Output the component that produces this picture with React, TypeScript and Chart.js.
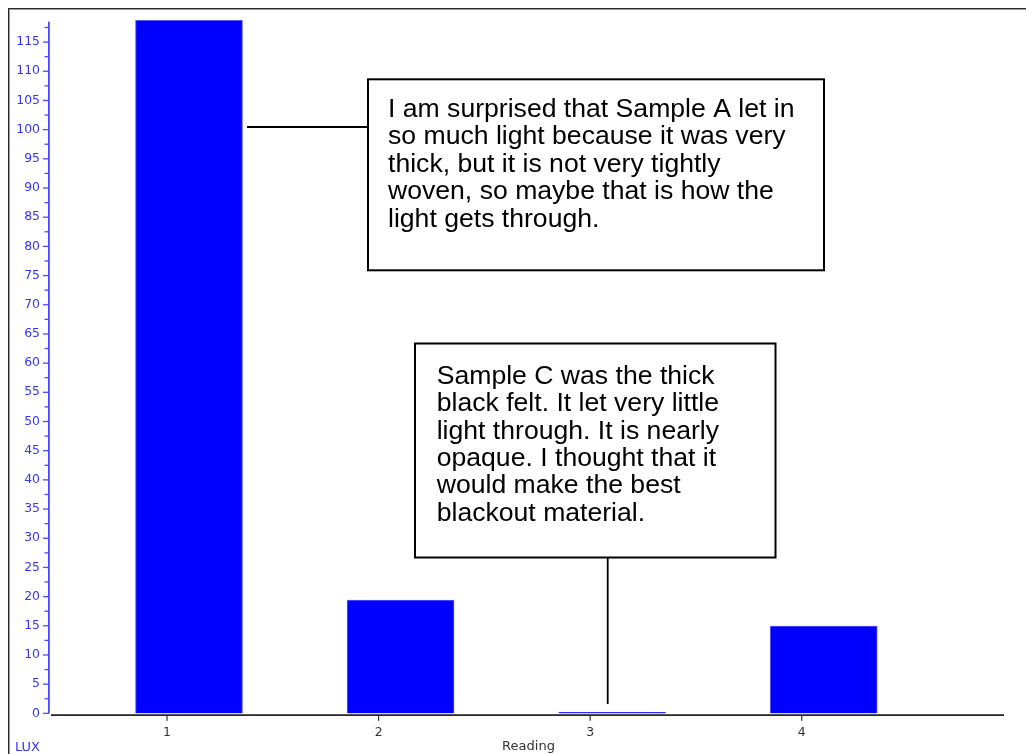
import React, { useEffect, useRef } from 'react';
import { Chart, registerables } from 'chart.js';

Chart.register(...registerables);

// ---- data ----
const readings = [1, 2, 3, 4];
const luxValues = [118.7, 19.4, 0.15, 14.95];
const xTickLabels = ['1', '2', '3', '4'];
const yMin = 0;
const yMax = 118.5;
const yStep = 2.5;
const yLabelStep = 5;
const yTitle = 'LUX';
const xTitle = 'Reading';
const noteA = [
  'I am surprised that Sample A let in',
  'so much light because it was very',
  'thick, but it is not very tightly',
  'woven, so maybe that is how the',
  'light gets through.',
];
const noteC = [
  'Sample C was the thick',
  'black felt. It let very little',
  'light through. It is nearly',
  'opaque. I thought that it',
  'would make the best',
  'blackout material.',
];

// ---- layout ----
const W = 1026;
const H = 754;
const X_MIN = 0.4423;
const X_MAX = 4.956;
const BAR_SHIFT = 0.104;
const BLUE_TEXT = '#3535ff';
const TICK_FONT = { family: '"DejaVu Sans", sans-serif', size: 12.4 };

const overlay = {
  id: 'overlay',
  afterDraw(chart: any) {
    const { ctx, chartArea, scales } = chart;
    const y = scales.y;
    const x = scales.x;
    ctx.save();
    // outer frame (top & left visible)
    ctx.fillStyle = '#2a2a2a';
    ctx.fillRect(8, 8, W - 8, 1);
    ctx.fillRect(8, 8, 1, H - 8);
    ctx.fillStyle = '#9a9a9a';
    ctx.fillRect(9, 9, W - 9, 1);
    ctx.fillRect(9, 9, 1, H - 9);

    // y axis line
    ctx.fillStyle = '#4a4aff';
    ctx.fillRect(48, chartArea.top, 1.8, chartArea.bottom - chartArea.top);
    // y ticks
    y.ticks.forEach((t: any) => {
      const py = y.getPixelForValue(t.value);
      const major = Math.abs(t.value / yLabelStep - Math.round(t.value / yLabelStep)) < 1e-6;
      const len = major ? 6 : 4.5;
      ctx.fillRect(49 - len, py - 0.6, len, 1.3);
    });

    // x axis line
    ctx.fillStyle = '#111111';
    ctx.fillRect(51, chartArea.bottom + 1, chartArea.right - 51, 1.6);
    // x ticks
    ctx.fillStyle = '#333333';
    x.ticks.forEach((t: any) => {
      const px = x.getPixelForValue(t.value);
      ctx.fillRect(px - 0.6, chartArea.bottom + 2.5, 1.2, 5);
    });

    // axis titles
    ctx.font = '13px "DejaVu Sans", sans-serif';
    ctx.textBaseline = 'alphabetic';
    ctx.textAlign = 'left';
    ctx.fillStyle = BLUE_TEXT;
    ctx.fillText(yTitle, 15, 751);
    ctx.textAlign = 'center';
    ctx.fillStyle = '#333333';
    ctx.fillText(xTitle, 528.5, 750);

    // annotation A
    ctx.lineWidth = 1.8;
    ctx.strokeStyle = '#000000';
    ctx.beginPath();
    ctx.moveTo(247, 127);
    ctx.lineTo(368, 127);
    ctx.stroke();
    ctx.fillStyle = '#ffffff';
    ctx.fillRect(368, 79, 456, 191);
    ctx.lineWidth = 2;
    ctx.strokeRect(368, 79.3, 456, 191);
    ctx.fillStyle = '#000000';
    ctx.textAlign = 'left';
    ctx.font = '26.6px "Liberation Sans", Arial, sans-serif';
    noteA.forEach((line, i) => ctx.fillText(line, 388, 116.7 + i * 27.5));

    // annotation C
    ctx.lineWidth = 1.8;
    ctx.beginPath();
    ctx.moveTo(607.7, 557.7);
    ctx.lineTo(607.7, 704);
    ctx.stroke();
    ctx.fillStyle = '#ffffff';
    ctx.fillRect(415, 343.5, 360.5, 214);
    ctx.lineWidth = 2;
    ctx.strokeRect(415, 343.5, 360.5, 214);
    ctx.fillStyle = '#000000';
    noteC.forEach((line, i) => ctx.fillText(line, 436.7, 384 + i * 27.35));
    ctx.restore();
  },
};

export default function App() {
  const ref = useRef<HTMLCanvasElement | null>(null);
  useEffect(() => {
    if (!ref.current) return;
    const chart = new Chart(ref.current, {
      type: 'bar',
      data: {
        datasets: [
          {
            label: 'Lux',
            data: readings.map((r, i) => ({ x: r, y: luxValues[i] })),
            xAxisID: 'xb',
            yAxisID: 'y',
            backgroundColor: '#0000ff',
            borderColor: '#5a5aff',
            borderWidth: 1,
            barThickness: 107,
            clip: false as any,
          },
        ],
      },
      options: {
        responsive: false,
        animation: false,
        layout: { padding: { top: 21.6, right: 22, left: 0, bottom: 0 } },
        plugins: { legend: { display: false }, tooltip: { enabled: false } },
        scales: {
          x: {
            type: 'linear',
            position: 'bottom',
            offset: false,
            min: X_MIN,
            max: X_MAX,
            grid: { display: false, drawTicks: false, offset: false },
            border: { display: false },
            ticks: {
              stepSize: 1,
              includeBounds: false,
              autoSkip: false,
              maxRotation: 0,
              padding: 12,
              color: '#333333',
              font: TICK_FONT,
              callback: (v: any) => (Number.isInteger(v) ? xTickLabels[v - 1] ?? '' : ''),
            },
            afterFit: (s: any) => {
              s.height = H - 713.3;
            },
          },
          xb: {
            type: 'linear',
            display: false,
            offset: false,
            min: X_MIN - BAR_SHIFT,
            max: X_MAX - BAR_SHIFT,
            grid: { offset: false },
            ticks: { stepSize: 1, includeBounds: false },
          },
          y: {
            type: 'linear',
            min: yMin,
            max: yMax,
            grid: { display: false, drawTicks: false },
            border: { display: false },
            ticks: {
              stepSize: yStep,
              includeBounds: false,
              autoSkip: false,
              padding: 9,
              color: BLUE_TEXT,
              font: TICK_FONT,
              callback: (v: any) =>
                Math.abs(v / yLabelStep - Math.round(v / yLabelStep)) < 1e-6 ? String(v) : '',
            },
            afterFit: (s: any) => {
              s.width = 49;
            },
          },
        },
      },
      plugins: [overlay],
    });
    return () => chart.destroy();
  }, []);
  return (
    <div style={{ position: 'fixed', left: 0, top: 0, width: W, height: H, background: '#ffffff' }}>
      <canvas ref={ref} width={W} height={H} style={{ display: 'block' }} />
    </div>
  );
}
